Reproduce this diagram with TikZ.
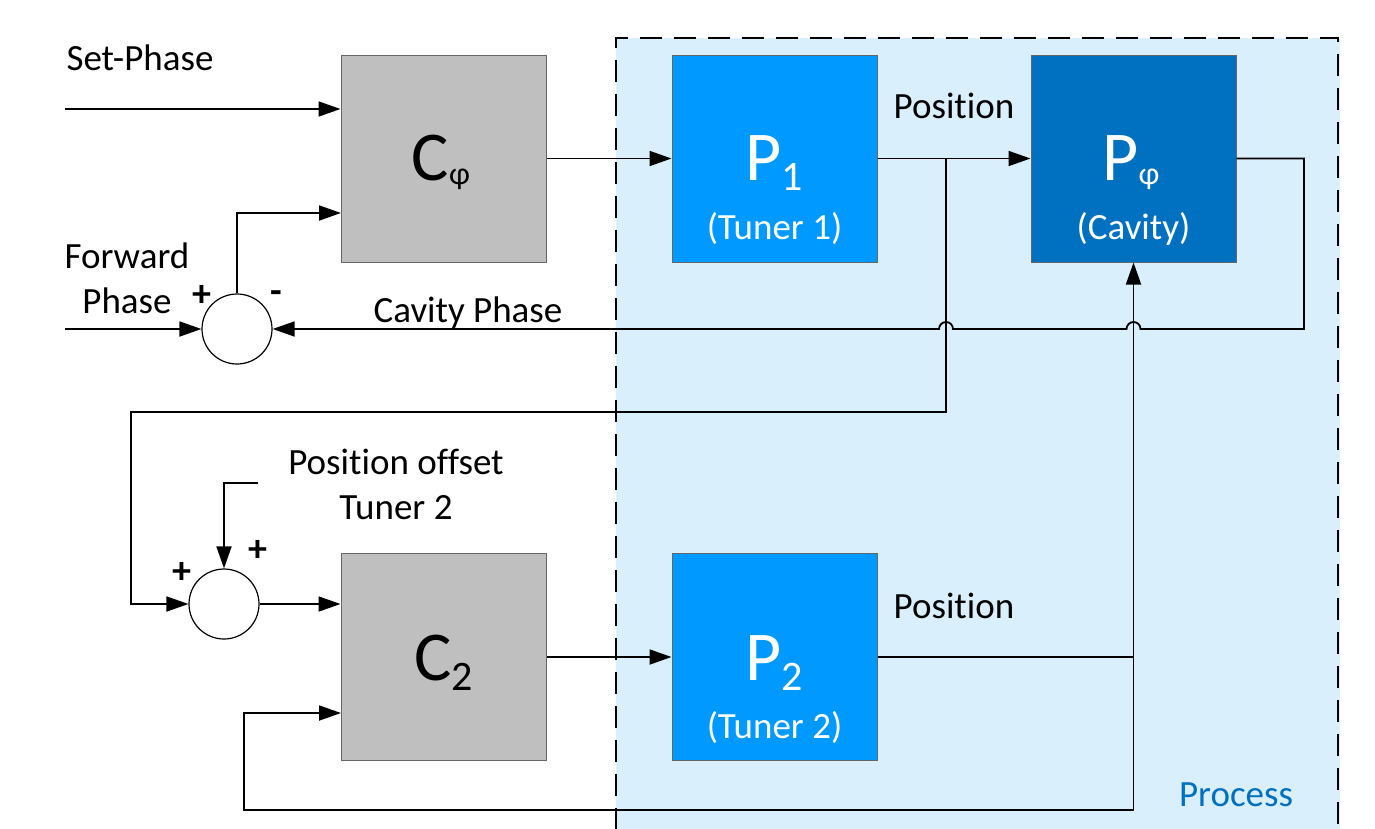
\documentclass[tikz,border=0pt]{standalone}
\usepackage{fontspec}
\setmainfont{Carlito}[Ligatures=NoCommon]
\usetikzlibrary{arrows.meta,calc}
\definecolor{procbg}{RGB}{218,239,252}
\definecolor{pone}{RGB}{0,153,255}
\definecolor{pcav}{RGB}{0,112,192}
\definecolor{cgray}{RGB}{191,191,191}
\begin{document}
\begin{tikzpicture}[x=1pt,y=-1pt,line width=1.8pt,
  arr/.style={-{Triangle[length=22pt,width=15pt]}},
  blk/.style={draw=black!60,line width=1pt,minimum width=205pt,minimum height=207pt,inner sep=0},
  sumc/.style={circle,draw=black,line width=1.2pt,fill=white,minimum size=70pt,inner sep=0},
  lbl/.style={inner sep=0,font=\fontsize{37}{44}\selectfont},
  sgn/.style={inner sep=0,font=\fontsize{38}{44}\selectfont\bfseries},
  big/.style={inner sep=0,anchor=base,font=\fontsize{70}{80}\selectfont},
  sub/.style={inner sep=0,font=\fontsize{37}{44}\selectfont,text=white}]
\useasboundingbox (0,0) rectangle (1375,828);
% process region
\fill[procbg] (616,38) rectangle (1340,830);
\draw[line width=1.6pt,dash pattern=on 22pt off 12pt] (616,830) -- (616,38) -- (1338,38) -- (1338,830);
\node[lbl,text=pcav] (proc) at (1236,795) {Process};
% blocks
\node[blk,fill=cgray] (cphi) at (443.5,158.5) {};
\node[blk,fill=pone] (p1) at (774.5,158.5) {};
\node[blk,fill=pcav] (pphi) at (1133.5,158.5) {};
\node[blk,fill=cgray] (c2) at (443.5,657) {};
\node[blk,fill=pone] (p2) at (774.5,657) {};
% block texts
\node[big] (tcphi) at (441,180) {C\raisebox{-4pt}{\fontsize{32}{32}\selectfont φ}};
\node[big,text=white] (tp1) at (774.5,180) {P\raisebox{-10pt}{\fontsize{42}{42}\selectfont 1}};
\node[sub] (sp1) at (774.5,229) {(Tuner 1)};
\node[big,text=white] (tpphi) at (1131,180) {P\raisebox{-4pt}{\fontsize{32}{32}\selectfont φ}};
\node[sub] (spphi) at (1133.5,229) {(Cavity)};
\node[big] (tc2) at (443.5,680) {C\raisebox{-10pt}{\fontsize{42}{42}\selectfont 2}};
\node[big,text=white] (tp2) at (774.5,680) {P\raisebox{-10pt}{\fontsize{42}{42}\selectfont 2}};
\node[sub] (sp2) at (774.5,728) {(Tuner 2)};
% summing junctions
\node[sumc] (s1) at (237,329) {};
\node[sumc] (s2) at (224,604) {};
% labels
\node[lbl] (lsp) at (140,58) {Set-Phase};
\node[lbl] (lfw) at (127,256) {Forward};
\node[lbl] (lph) at (127,301) {Phase};
\node[sgn] (pl1) at (202,296) {+};
\node[sgn] (mi1) at (276,297) {-};
\node[lbl] (lcp) at (468,313) {Cavity Phase};
\node[lbl] (lpos1) at (954,106) {Position};
\node[lbl] (lpo) at (396,462) {Position offset};
\node[lbl] (lt2) at (396,508) {Tuner 2};
\node[sgn] (pl2) at (182,573) {+};
\node[sgn] (pl3) at (258,551) {+};
\node[lbl] (lpos2) at (954,606) {Position};
% coordinates
\coordinate (spin) at (65,109);
\coordinate (fpin) at (65,329);
\coordinate (cin2) at (341,213);
\coordinate (j1) at (946,158.5);
\coordinate (j2) at (1133.5,657);
\coordinate (c2in2) at (341,713);
\coordinate (pot) at (258,483);
% connectors
\draw[arr] (spin) -- (spin -| cphi.west);
\draw[arr] (s1.north) |- (cin2);
\draw[arr] (fpin) -- (s1.west);
\draw[arr] (cphi.east) -- (p1.west);
\draw[arr] (p1.east) -- (pphi.west);
\draw[arr] (j1) -- (946,412) -- (131,412) |- (s2.west);
\draw[arr] (pphi.east) -- (1304,158.5) -- (1304,329) -- (1140.5,329)
  arc[start angle=0,end angle=-180,radius=7] -- (953,329)
  arc[start angle=0,end angle=-180,radius=7] -- (s1.east);
\draw[arr] (p2.east) -- (j2) -- (pphi.south);
\draw[arr] (j2) -- (1133.5,810) -- (244,810) |- (c2in2);
\draw[arr] (s2.east) -- (s2.east -| c2.west);
\draw[arr] (pot) -- (224,483) -- (s2.north);
\draw[arr] (c2.east) -- (p2.west);
\end{tikzpicture}
\end{document}
